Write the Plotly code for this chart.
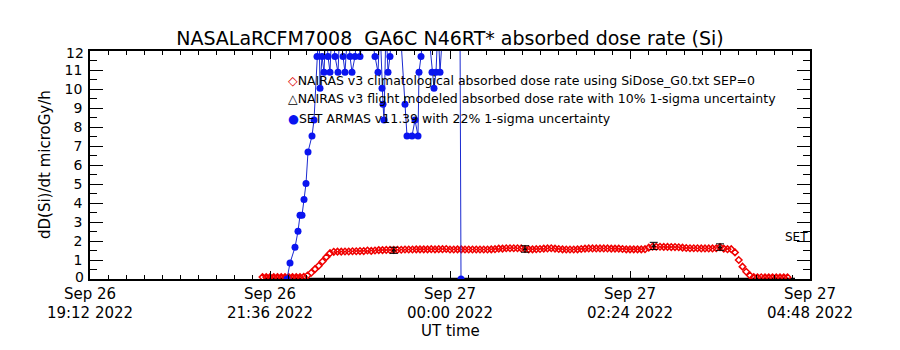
import plotly.graph_objects as go
import pandas as pd

FONT = "DejaVu Sans"

# ---------------- data ----------------
# NAIRAS v3 climatological absorbed dose rate (3-minute cadence from 21:30 UT)
nairas_clim_start = "2022-09-26 21:30:00"
nairas_clim_step_min = 3
nairas_clim_values = [
    0.10, 0.10, 0.10, 0.10, 0.10, 0.10, 0.10, 0.10, 0.10, 0.10,
    0.10, 0.12, 0.18, 0.33, 0.52, 0.70, 0.92, 1.15, 1.36, 1.43,
    1.44, 1.44, 1.45, 1.45, 1.46, 1.46, 1.47, 1.47, 1.50, 1.48,
    1.50, 1.52, 1.52, 1.53, 1.53, 1.53, 1.54, 1.54, 1.55, 1.55,
    1.55, 1.56, 1.56, 1.56, 1.56, 1.57, 1.56, 1.57, 1.57, 1.58,
    1.55, 1.55, 1.56, 1.56, 1.55, 1.55, 1.55, 1.55, 1.55, 1.55,
    1.55, 1.56, 1.57, 1.60, 1.60, 1.62, 1.62, 1.62, 1.62, 1.61,
    1.58, 1.56, 1.56, 1.57, 1.58, 1.60, 1.61, 1.62, 1.60, 1.58,
    1.56, 1.55, 1.55, 1.55, 1.56, 1.58, 1.60, 1.61, 1.61, 1.61,
    1.61, 1.61, 1.61, 1.60, 1.60, 1.60, 1.58, 1.56, 1.56, 1.56,
    1.56, 1.56, 1.57, 1.65, 1.70, 1.70, 1.70, 1.69, 1.69, 1.68,
    1.68, 1.67, 1.65, 1.63, 1.62, 1.62, 1.62, 1.61, 1.61, 1.61,
    1.61, 1.62, 1.68, 1.60, 1.57, 1.57, 1.40, 1.00, 0.65, 0.38,
    0.18, 0.10, 0.09, 0.09, 0.09, 0.09, 0.09, 0.09, 0.09, 0.09,
    0.09,
]

# NAIRAS v3 flight modeled absorbed dose rate (with 10% 1-sigma)
nairas_flight_times = ["2022-09-26 23:15:00", "2022-09-27 01:00:00",
                       "2022-09-27 02:43:00", "2022-09-27 03:36:00"]
nairas_flight_values = [1.51, 1.58, 1.74, 1.68]
nairas_flight_sigma = [0.16, 0.17, 0.19, 0.17]

# flight-modeled baseline along the zero line
baseline_times = ["2022-09-26 21:32:00", "2022-09-27 04:36:00"]
baseline_values = [0.0, 0.0]

# SET ARMAS v11.39 absorbed dose rate
set_times = [
    "2022-09-26 21:49:36", "2022-09-26 21:52:00", "2022-09-26 21:56:00",
    "2022-09-26 21:58:24", "2022-09-26 22:00:00", "2022-09-26 22:01:36",
    "2022-09-26 22:03:12", "2022-09-26 22:04:48", "2022-09-26 22:06:24",
    "2022-09-26 22:09:36", "2022-09-26 22:11:12", "2022-09-26 22:13:36",
    "2022-09-26 22:15:12", "2022-09-26 22:16:00", "2022-09-26 22:17:36",
    "2022-09-26 22:19:12", "2022-09-26 22:20:48", "2022-09-26 22:22:24",
    "2022-09-26 22:24:00", "2022-09-26 22:25:36", "2022-09-26 22:28:00",
    "2022-09-26 22:30:24", "2022-09-26 22:32:00", "2022-09-26 22:34:24",
    "2022-09-26 22:36:00", "2022-09-26 22:38:24", "2022-09-26 22:40:00",
    "2022-09-26 22:41:36", "2022-09-26 22:44:00", "2022-09-26 22:46:24",
    "2022-09-26 22:48:00", "2022-09-26 22:52:00", "2022-09-26 22:56:00",
    "2022-09-26 23:00:00", "2022-09-26 23:02:24", "2022-09-26 23:04:00",
    "2022-09-26 23:05:36", "2022-09-26 23:06:24", "2022-09-26 23:07:12",
    "2022-09-26 23:08:48", "2022-09-26 23:10:24", "2022-09-26 23:12:00",
    "2022-09-26 23:13:36", "2022-09-26 23:16:00", "2022-09-26 23:20:00",
    "2022-09-26 23:24:00", "2022-09-26 23:25:36", "2022-09-26 23:29:36",
    "2022-09-26 23:32:00", "2022-09-26 23:34:24", "2022-09-26 23:35:12",
    "2022-09-26 23:36:48", "2022-09-26 23:39:12", "2022-09-26 23:42:24",
    "2022-09-26 23:45:36", "2022-09-26 23:47:12", "2022-09-26 23:48:48",
    "2022-09-26 23:50:24", "2022-09-26 23:52:00", "2022-09-26 23:54:24",
    "2022-09-27 00:00:00", "2022-09-27 00:08:00", "2022-09-27 00:08:48",
]
set_values = [
    0.00, 0.84, 1.67, 2.51, 3.35, 3.35, 4.18, 5.02, 6.69,
    7.53, 8.37, 11.71, 13.40, 10.04, 11.71, 10.88, 13.40, 11.71,
    10.88, 13.40, 11.71, 10.88, 13.40, 11.71, 10.88, 13.40, 11.71,
    10.88, 11.71, 13.40, 11.71, 13.40, 13.40, 11.71, 10.88, 13.40,
    10.04, 9.20, 8.37, 13.40, 10.88, 11.71, 13.40, 13.40, 13.40,
    9.20, 7.53, 7.53, 8.37, 7.53, 10.88, 11.71, 13.40, 13.40,
    10.88, 10.04, 10.88, 13.40, 10.88, 13.40, 13.40, 13.40, 0.00,
]

# axis ticks
x_range = ["2022-09-26 19:12:00", "2022-09-27 04:48:00"]
x_tickvals = ["2022-09-26 19:12:00", "2022-09-26 21:36:00", "2022-09-27 00:00:00",
              "2022-09-27 02:24:00", "2022-09-27 04:48:00"]
x_ticktext = ["Sep 26<br>19:12 2022", "Sep 26<br>21:36 2022", "Sep 27<br>00:00 2022",
              "Sep 27<br>02:24 2022", "Sep 27<br>04:48 2022"]
y_range = [0, 12]
y_tickvals = [0, 1, 2, 3, 4, 5, 6, 7, 8, 9, 10, 11, 12]
y_ticktext = ["0", "1", "2", "3", "4", "5", "6", "7", "8", "9", "10", "11", "12"]

title_text = "NASALaRCFM7008  GA6C N46RT* absorbed dose rate (Si)"
y_title = "dD(Si)/dt microGy/h"
x_title = "UT time"
legend_lines = [
    ("#e00000", "◇", "NAIRAS v3 climatological absorbed dose rate using SiDose_G0.txt SEP=0"),
    ("#000000", "<b>△</b>", "NAIRAS v3 flight modeled absorbed dose rate with 10% 1-sigma uncertainty"),
    ("#0a14f0", "●", "SET ARMAS v11.39 with 22% 1-sigma uncertainty"),
]

# ---------------- figure ----------------
clim_times = pd.date_range(nairas_clim_start, periods=len(nairas_clim_values),
                           freq=f"{nairas_clim_step_min}min")

fig = go.Figure()

fig.add_trace(go.Scatter(
    x=baseline_times, y=baseline_values, mode="lines",
    line=dict(color="#000000", width=2.5), showlegend=False, cliponaxis=False))

fig.add_trace(go.Scatter(
    x=clim_times, y=nairas_clim_values, mode="markers",
    marker=dict(symbol="diamond-open", size=5, color="#f00000",
                line=dict(width=1.5, color="#f00000")),
    showlegend=False))

fig.add_trace(go.Scatter(
    x=nairas_flight_times, y=nairas_flight_values, mode="markers",
    marker=dict(symbol="triangle-up-open", size=3, color="#000000"),
    error_y=dict(type="data", array=nairas_flight_sigma, color="#000000",
                 thickness=1, width=4),
    showlegend=False))

fig.add_trace(go.Scatter(
    x=set_times, y=set_values, mode="lines+markers",
    line=dict(color="#1a2ad0", width=1),
    marker=dict(symbol="circle", size=7, color="#0a14f0"),
    showlegend=False))

axis_font = dict(family=FONT, size=15, color="#000000")
ytick_font = dict(family=FONT, size=14, color="#000000")

fig.update_xaxes(
    type="date", range=x_range, tickmode="array", tickvals=x_tickvals,
    ticktext=x_ticktext, ticks="inside", ticklen=8, tickwidth=1, tickcolor="#000",
    showline=True, linecolor="#000", linewidth=1.5, mirror="ticks",
    showgrid=False, zeroline=False, tickfont=axis_font, tickangle=0,
    minor=dict(ticks="inside", ticklen=4, dtick=864000,
               tick0="2022-09-26 19:12:00", tickcolor="#000", showgrid=False),
)
# the end labels (0 and 12) are nudged inside the axis span, as in the reference
inner_text = [t if v not in (y_range[0], y_range[1]) else "" for v, t in zip(y_tickvals, y_ticktext)]
fig.update_yaxes(
    range=y_range, tickmode="array", tickvals=y_tickvals, ticktext=inner_text,
    ticks="inside", ticklen=13, tickwidth=1, tickcolor="#000",
    showline=True, linecolor="#000", linewidth=1.5, mirror="ticks",
    showgrid=False, zeroline=False, tickfont=ytick_font, ticklabelstandoff=3,
    minor=dict(ticks="inside", ticklen=7, dtick=0.5, tickcolor="#000", showgrid=False),
)

annotations = [
    dict(text=y_title, xref="paper", yref="paper", x=-0.0625, y=0.5,
         textangle=-90, showarrow=False, font=dict(family=FONT, size=15, color="#000"),
         xanchor="center", yanchor="middle"),
    dict(text=x_title, xref="paper", yref="paper", x=0.5, y=-0.228,
         showarrow=False, font=dict(family=FONT, size=15, color="#000"),
         xanchor="center", yanchor="middle"),
    dict(text="SET", xref="paper", yref="y", x=1.0, y=2.2, showarrow=False,
         font=dict(family=FONT, size=12, color="#000"), xanchor="right", yanchor="middle"),
]
for v, t, shift in [(y_range[0], y_ticktext[0], 2), (y_range[1], y_ticktext[-1], -2)]:
    annotations.append(dict(
        text=t, xref="paper", yref="y", x=0, y=v, xshift=-4, yshift=shift,
        showarrow=False, xanchor="right", yanchor="middle",
        font=ytick_font))

leg_y = [0.8728, 0.7895, 0.7061]
for (col, sym, txt), yy in zip(legend_lines, leg_y):
    annotations.append(dict(
        text=f'<span style="color:{col}">{sym}</span>{txt}',
        xref="paper", yref="paper", x=0.272, y=yy, showarrow=False,
        xanchor="left", yanchor="middle",
        font=dict(family=FONT, size=12.5, color="#000")))

fig.update_layout(
    width=900, height=350,
    margin=dict(l=90, r=90, t=51, b=71),
    paper_bgcolor="white", plot_bgcolor="white",
    title=dict(text=title_text, x=0.5, xanchor="center", y=1 - 38 / 350,
               yanchor="middle", font=dict(family=FONT, size=19, color="#000")),
    annotations=annotations,
    showlegend=False,
)

fig.write_html("out.html")
